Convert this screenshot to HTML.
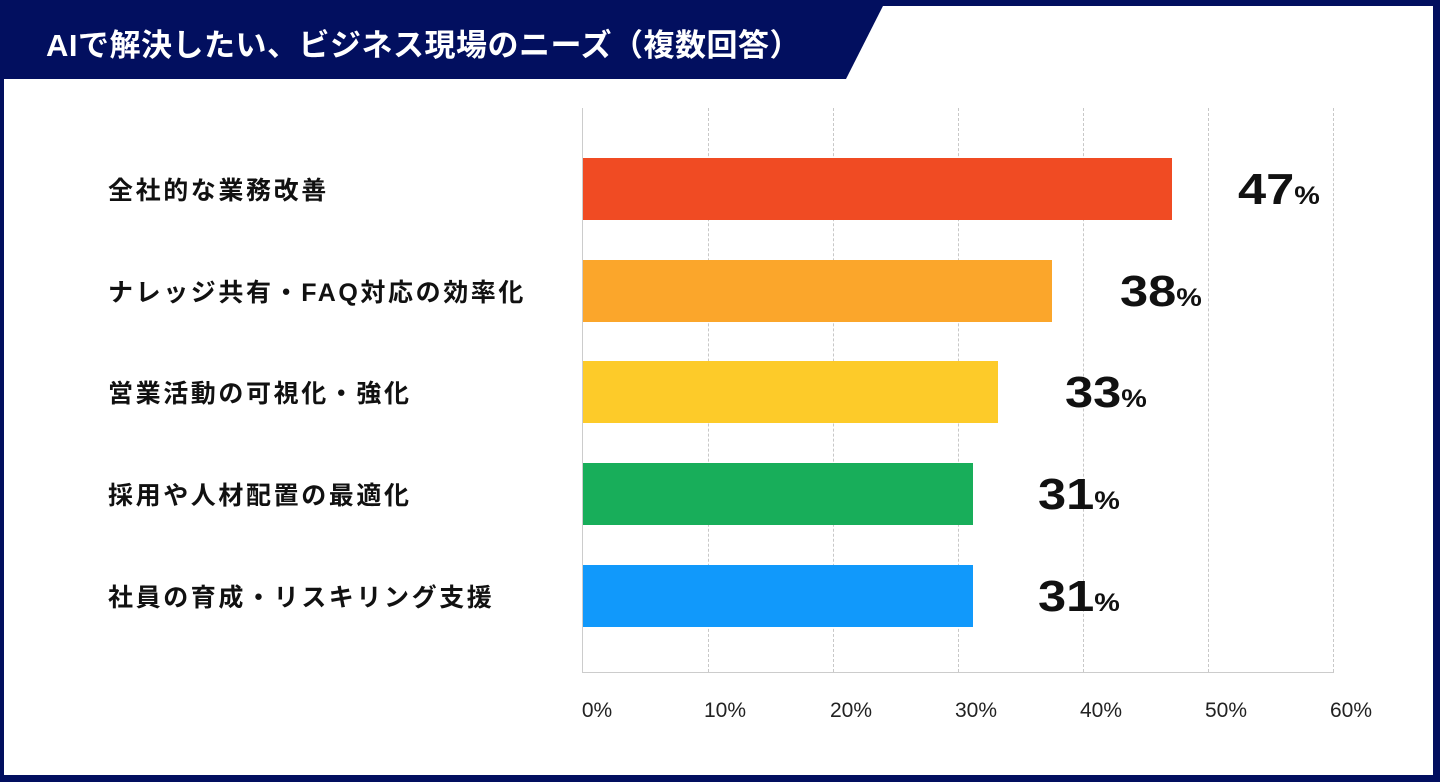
<!DOCTYPE html>
<html><head><meta charset="utf-8"><style>
html,body{margin:0;padding:0}
body{width:1440px;height:782px;position:relative;background:#020f5f;overflow:hidden;font-family:"Liberation Sans","Noto Sans CJK JP",sans-serif}
.panel{position:absolute;left:4px;top:6px;width:1429px;height:769px;background:#fff}
.tab{position:absolute;left:0;top:0;width:900px;height:79px;background:#020f5f;clip-path:polygon(0 0,886px 0,846px 79px,0 79px)}
.title{position:absolute;left:46px;top:20px;color:#fff;font-size:31px;font-weight:bold;letter-spacing:0.5px}
.g{position:absolute;top:108px;height:564px;border-left:1px dashed #c8c8c8}
.ax{position:absolute;background:#ccc}
.bar{position:absolute;left:583px;height:62px}
.lab{position:absolute;left:108px;font-size:25px;font-weight:bold;color:#111;letter-spacing:2.6px}
.val{position:absolute;font-size:44px;font-weight:bold;color:#111;transform:scaleX(1.15);transform-origin:left center}
.val span{font-size:25px}
.t{position:absolute;top:699px;font-size:21px;color:#222;transform:translateX(-50%)}
</style></head><body>
<div class="panel"></div>
<div class="tab"></div>
<div class="title">AIで解決したい、ビジネス現場のニーズ（複数回答）</div>
<div class="g" style="left:708px"></div><div class="g" style="left:833px"></div><div class="g" style="left:958px"></div><div class="g" style="left:1083px"></div><div class="g" style="left:1208px"></div><div class="g" style="left:1333px"></div>
<div class="ax" style="left:582px;top:108px;width:1px;height:565px"></div>
<div class="ax" style="left:582px;top:672px;width:752px;height:1px"></div>
<div class="bar" style="top:158px;width:589px;background:#f04b23"></div>
<div class="bar" style="top:260px;width:469px;background:#fba62b"></div>
<div class="bar" style="top:361px;width:415px;background:#fdcb29"></div>
<div class="bar" style="top:463px;width:390px;background:#18ae5a"></div>
<div class="bar" style="top:565px;width:390px;background:#1199fb"></div>
<div class="lab" style="top:171px">全社的な業務改善</div>
<div class="lab" style="top:273px">ナレッジ共有・FAQ対応の効率化</div>
<div class="lab" style="top:374px">営業活動の可視化・強化</div>
<div class="lab" style="top:476px">採用や人材配置の最適化</div>
<div class="lab" style="top:578px">社員の育成・リスキリング支援</div>
<div class="val" style="left:1238px;top:165px">47<span>%</span></div>
<div class="val" style="left:1120px;top:267px">38<span>%</span></div>
<div class="val" style="left:1065px;top:368px">33<span>%</span></div>
<div class="val" style="left:1038px;top:470px">31<span>%</span></div>
<div class="val" style="left:1038px;top:572px">31<span>%</span></div>
<div class="t" style="left:597px">0%</div><div class="t" style="left:725px">10%</div><div class="t" style="left:851px">20%</div><div class="t" style="left:976px">30%</div><div class="t" style="left:1101px">40%</div><div class="t" style="left:1226px">50%</div><div class="t" style="left:1351px">60%</div>
</body></html>
